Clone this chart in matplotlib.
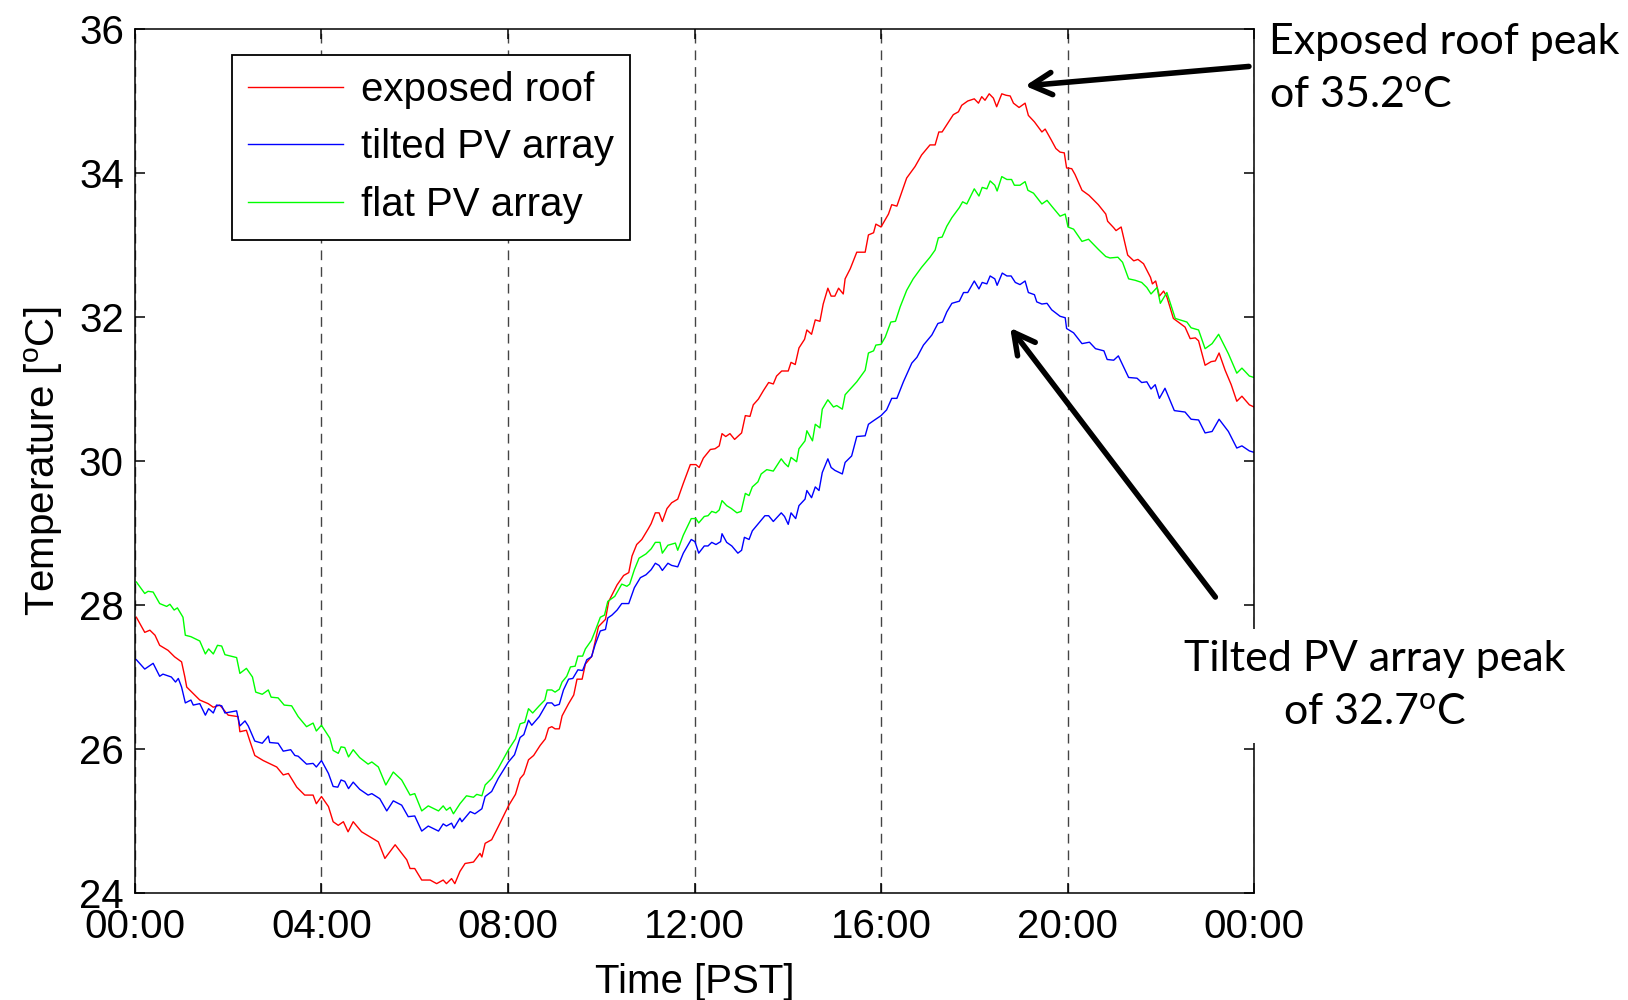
import matplotlib
matplotlib.use("Agg")
import matplotlib.pyplot as plt
import numpy as np

# time of day [h] and temperature [C]
roof_h = [0.03, 0.21, 0.32, 0.43, 0.53, 0.71, 0.85, 1.0, 1.07, 1.11, 1.25, 1.39, 1.57, 1.68, 1.82,
          2.0, 2.21, 2.25, 2.39, 2.46, 2.57, 2.75, 3.04, 3.18, 3.29, 3.47, 3.64, 3.82, 3.89, 4.0,
          4.15, 4.25, 4.36, 4.47, 4.57, 4.68, 4.86, 5.04, 5.22, 5.36, 5.58, 5.83, 5.90, 6.0, 6.15,
          6.33, 6.47, 6.61, 6.68, 6.79, 6.86, 6.97, 7.08, 7.26, 7.40, 7.44, 7.51, 7.65, 7.79,
          8.01, 8.16, 8.26, 8.34, 8.44, 8.55, 8.69, 8.8, 8.87, 8.94, 9.01, 9.1, 9.16, 9.3, 9.41,
          9.48, 9.59, 9.66, 9.8, 9.94, 10.09, 10.16, 10.34, 10.48, 10.59, 10.66, 10.76, 10.87,
          11.01, 11.07, 11.16, 11.24, 11.31, 11.41, 11.51, 11.64, 11.76, 11.91, 12.03, 12.1, 12.19,
          12.34, 12.44, 12.53, 12.59, 12.67, 12.76, 12.86, 13.01, 13.09, 13.19, 13.26, 13.37,
          13.48, 13.59, 13.69, 13.76, 13.87, 14.01, 14.07, 14.16, 14.24, 14.36, 14.41, 14.51,
          14.59, 14.69, 14.76, 14.86, 14.93, 15.01, 15.09, 15.19, 15.23, 15.34,
          15.48, 15.66, 15.73, 15.84, 15.89, 16.0, 16.16, 16.23, 16.34, 16.55, 16.73, 16.87,
          17.05, 17.16, 17.24, 17.31, 17.55, 17.66, 17.73, 17.86, 18.0, 18.09, 18.16, 18.23,
          18.32, 18.41, 18.48, 18.59, 18.68, 18.77, 18.84, 18.96, 19.09, 19.16, 19.29, 19.45,
          19.52, 19.65, 19.75, 19.84, 19.93, 19.98, 20.09, 20.16, 20.31, 20.46, 20.66, 20.82,
          20.86, 20.99, 21.04, 21.15, 21.29, 21.42, 21.51, 21.63, 21.78, 21.82, 21.89, 21.97,
          22.06, 22.13, 22.27, 22.52, 22.63, 22.74, 22.81, 22.95, 23.08, 23.17, 23.25, 23.38,
          23.51, 23.63, 23.74, 23.9, 24.0]
roof_t = [27.83, 27.62, 27.65, 27.58, 27.44, 27.37, 27.28, 27.21, 27.00, 26.86, 26.77, 26.68, 26.63,
          26.58, 26.61, 26.47, 26.45, 26.24, 26.26, 26.12, 25.91, 25.84, 25.75, 25.64, 25.66,
          25.47, 25.36, 25.36, 25.24, 25.34, 25.20, 24.99, 24.94, 24.99, 24.85, 24.99, 24.85,
          24.78, 24.71, 24.48, 24.67, 24.46, 24.34, 24.34, 24.18, 24.18, 24.13, 24.18, 24.13,
          24.20, 24.13, 24.30, 24.41, 24.43, 24.55, 24.50, 24.69, 24.74, 24.92,
          25.21, 25.37, 25.59, 25.65, 25.85, 25.91, 26.05, 26.14, 26.29, 26.31, 26.28, 26.28,
          26.46, 26.63, 26.75, 26.97, 26.97, 27.18, 27.29, 27.70, 27.80, 28.05, 28.28, 28.41,
          28.45, 28.68, 28.84, 28.91, 29.06, 29.13, 29.28, 29.28, 29.16, 29.34, 29.42, 29.47,
          29.69, 29.95, 29.95, 29.91, 30.04, 30.16, 30.17, 30.21, 30.38, 30.34, 30.38, 30.30,
          30.39, 30.63, 30.62, 30.78, 30.86, 30.98, 31.09, 31.07, 31.18, 31.25, 31.25, 31.37,
          31.34, 31.57, 31.69, 31.82, 31.76, 31.96, 31.94, 32.18, 32.40, 32.29, 32.29, 32.40,
          32.32, 32.53, 32.67,
          32.90, 32.90, 33.14, 33.17, 33.29, 33.25, 33.43, 33.56, 33.54, 33.93, 34.09, 34.25,
          34.39, 34.39, 34.57, 34.57, 34.81, 34.85, 34.94, 35.00, 35.03, 34.97, 35.06, 35.01,
          35.10, 35.04, 34.92, 35.10, 35.08, 35.07, 34.97, 34.91, 34.97, 34.80, 34.71, 34.57,
          34.61, 34.46, 34.34, 34.29, 34.28, 34.07, 34.06, 33.98, 33.76, 33.69, 33.56, 33.43,
          33.33, 33.24, 33.20, 33.25, 32.86, 32.78, 32.80, 32.74, 32.55, 32.46, 32.50, 32.29,
          32.36, 32.28, 31.98, 31.86, 31.70, 31.71, 31.67, 31.33, 31.38, 31.39, 31.50, 31.26,
          31.06, 30.83, 30.90, 30.78, 30.75]

tilted_h = [0.03, 0.21, 0.39, 0.53, 0.6, 0.78, 0.87, 0.93, 1.0, 1.08, 1.2, 1.25, 1.39, 1.51, 1.58,
            1.68, 1.75, 1.86, 1.93, 2.18, 2.25, 2.36, 2.43, 2.57, 2.73, 2.86, 2.89, 3.07, 3.18,
            3.34, 3.43, 3.5, 3.68, 3.82, 3.89, 4.0, 4.15, 4.25, 4.35, 4.42, 4.5, 4.58, 4.68, 4.82,
            5.0, 5.08, 5.25, 5.4, 5.54, 5.72, 5.86, 6.0, 6.15, 6.29, 6.51, 6.61, 6.68, 6.79, 6.84,
            6.97, 7.01, 7.19, 7.29, 7.44, 7.51, 7.65, 7.79,
            8.01, 8.14, 8.26, 8.34, 8.44, 8.51, 8.67, 8.84, 8.94, 9.0, 9.1, 9.19, 9.3, 9.39, 9.5,
            9.6, 9.69, 9.79, 9.87, 9.98, 10.09, 10.14, 10.23, 10.34, 10.44, 10.59, 10.71, 10.84,
            10.96, 11.07, 11.16, 11.24, 11.31, 11.43, 11.51, 11.64, 11.76, 11.93, 12.01, 12.09,
            12.21, 12.29, 12.37, 12.46, 12.56, 12.59, 12.69, 12.8, 12.93, 13.01, 13.07, 13.17,
            13.24, 13.37, 13.51, 13.59, 13.69, 13.86, 13.93, 14.01, 14.07, 14.17, 14.24, 14.37,
            14.41, 14.51, 14.59, 14.67, 14.74, 14.86, 14.93, 15.01, 15.17, 15.23,
            15.37, 15.48, 15.66, 15.73, 15.84, 16.0, 16.12, 16.23, 16.34, 16.48, 16.66, 16.77,
            16.91, 17.09, 17.22, 17.32, 17.41, 17.52, 17.68, 17.77, 17.86, 18.0, 18.1, 18.17,
            18.27, 18.34, 18.44, 18.49, 18.6, 18.7, 18.79, 18.88, 18.98, 19.09, 19.16, 19.29,
            19.34, 19.45, 19.56, 19.66, 19.84, 19.95, 19.98, 20.13, 20.31, 20.47, 20.6, 20.78,
            20.85, 20.99, 21.09, 21.31, 21.49, 21.59, 21.7, 21.79, 21.88, 21.97, 22.09, 22.29,
            22.52, 22.65, 22.81, 22.95, 23.1, 23.25, 23.45, 23.63, 23.74, 23.9, 24.0]
tilted_t = [27.24, 27.11, 27.19, 27.01, 27.04, 27.00, 26.93, 26.98, 26.86, 26.64, 26.68, 26.61, 26.63,
            26.47, 26.56, 26.50, 26.61, 26.60, 26.50, 26.53, 26.32, 26.39, 26.32, 26.11, 26.08,
            26.18, 26.09, 26.08, 25.97, 25.99, 25.91, 25.90, 25.79, 25.80, 25.75, 25.84, 25.66,
            25.48, 25.47, 25.57, 25.55, 25.45, 25.54, 25.44, 25.36, 25.38, 25.31, 25.14, 25.28,
            25.22, 25.06, 25.07, 24.86, 24.93, 24.86, 24.96, 24.93, 24.97, 24.90, 25.04, 24.99,
            25.13, 25.10, 25.17, 25.34, 25.41, 25.59,
            25.82, 25.92, 26.16, 26.20, 26.40, 26.33, 26.45, 26.64, 26.64, 26.60, 26.62, 26.82,
            26.97, 26.98, 27.10, 27.09, 27.24, 27.28, 27.45, 27.64, 27.66, 27.82, 27.86, 27.93,
            28.02, 28.02, 28.24, 28.38, 28.42, 28.49, 28.58, 28.55, 28.48, 28.58, 28.55, 28.53,
            28.72, 28.91, 28.88, 28.72, 28.82, 28.82, 28.87, 28.84, 28.88, 28.99, 28.87, 28.82,
            28.72, 28.76, 28.94, 28.91, 29.03, 29.13, 29.24, 29.24, 29.16, 29.28, 29.23, 29.12,
            29.28, 29.20, 29.38, 29.47, 29.59, 29.49, 29.64, 29.59, 29.84, 30.03, 29.91, 29.87,
            29.82, 29.98,
            30.07, 30.34, 30.35, 30.51, 30.56, 30.63, 30.71, 30.87, 30.87, 31.10, 31.36, 31.44,
            31.61, 31.75, 31.91, 31.93, 32.07, 32.19, 32.22, 32.34, 32.34, 32.50, 32.39, 32.48,
            32.46, 32.57, 32.53, 32.44, 32.61, 32.57, 32.57, 32.48, 32.45, 32.50, 32.34, 32.31,
            32.21, 32.18, 32.19, 32.10, 32.01, 31.99, 31.84, 31.78, 31.63, 31.65, 31.56, 31.53,
            31.41, 31.40, 31.46, 31.16, 31.15, 31.09, 31.10, 31.00, 31.06, 30.87, 31.01, 30.70,
            30.68, 30.58, 30.57, 30.39, 30.41, 30.58, 30.41, 30.18, 30.21, 30.14, 30.12]

flat_h = [0.03, 0.21, 0.28, 0.39, 0.53, 0.68, 0.75, 0.84, 0.91, 1.03, 1.08, 1.2, 1.39, 1.51, 1.58,
          1.68, 1.77, 1.86, 1.93, 2.18, 2.25, 2.39, 2.52, 2.59, 2.73, 2.86, 2.92, 3.07, 3.2, 3.36,
          3.5, 3.68, 3.82, 3.89, 4.0, 4.18, 4.25, 4.36, 4.42, 4.5, 4.58, 4.68, 4.82, 5.0, 5.08,
          5.22, 5.38, 5.54, 5.72, 5.9, 6.0, 6.15, 6.29, 6.51, 6.61, 6.68, 6.76, 6.83, 6.97, 7.11,
          7.26, 7.33, 7.44, 7.51, 7.65, 7.79,
          8.01, 8.16, 8.26, 8.36, 8.44, 8.53, 8.67, 8.79, 8.84, 8.94, 9.01, 9.1, 9.16, 9.26, 9.34,
          9.44, 9.5, 9.6, 9.66, 9.79, 9.87, 9.98, 10.07, 10.14, 10.29, 10.44, 10.55, 10.61, 10.71,
          10.81, 10.96, 11.07, 11.16, 11.26, 11.31, 11.43, 11.59, 11.64, 11.76, 11.93, 12.03,
          12.09, 12.21, 12.29, 12.37, 12.46, 12.53, 12.59, 12.69, 12.79, 12.91, 13.0, 13.09,
          13.17, 13.24, 13.36, 13.43, 13.55, 13.69, 13.86, 13.93, 14.01, 14.07, 14.19, 14.24,
          14.37, 14.41, 14.53, 14.59, 14.69, 14.74, 14.86, 14.98, 15.05, 15.17, 15.23, 15.37,
          15.48, 15.66, 15.73, 15.84, 15.89, 16.0, 16.09, 16.21, 16.31, 16.41, 16.55, 16.69,
          16.87, 17.05, 17.16, 17.23, 17.31, 17.41, 17.52, 17.68, 17.75, 17.84, 18.0, 18.1,
          18.17, 18.27, 18.34, 18.44, 18.49, 18.59, 18.7, 18.8, 18.86, 18.98, 19.09, 19.15,
          19.27, 19.45, 19.56, 19.66, 19.84, 19.95, 20.01, 20.13, 20.31, 20.45, 20.66, 20.82,
          20.91, 21.08, 21.18, 21.31, 21.45, 21.59, 21.7, 21.79, 21.92, 21.99, 22.13, 22.31,
          22.56, 22.65, 22.81, 22.95, 23.1, 23.24, 23.45, 23.63, 23.74, 23.9, 24.0]
flat_t = [28.32, 28.16, 28.19, 28.18, 28.02, 27.98, 28.01, 27.93, 27.96, 27.83, 27.58, 27.56, 27.50,
          27.32, 27.39, 27.32, 27.44, 27.43, 27.31, 27.27, 27.05, 27.12, 27.00, 26.79, 26.76,
          26.82, 26.72, 26.71, 26.61, 26.60, 26.45, 26.31, 26.36, 26.25, 26.33, 26.15, 25.98,
          25.94, 26.03, 26.02, 25.89, 25.99, 25.88, 25.79, 25.82, 25.75, 25.50, 25.68, 25.57,
          25.36, 25.38, 25.14, 25.21, 25.14, 25.21, 25.15, 25.19, 25.10, 25.24, 25.35, 25.33,
          25.37, 25.35, 25.50, 25.59, 25.73,
          25.99, 26.14, 26.35, 26.37, 26.56, 26.50, 26.60, 26.68, 26.82, 26.82, 26.79, 26.83,
          26.93, 27.01, 27.14, 27.15, 27.29, 27.29, 27.39, 27.51, 27.64, 27.83, 27.86, 28.05,
          28.12, 28.29, 28.26, 28.29, 28.49, 28.65, 28.71, 28.78, 28.87, 28.87, 28.72, 28.83,
          28.86, 28.76, 28.97, 29.20, 29.20, 29.14, 29.23, 29.24, 29.30, 29.28, 29.32, 29.45,
          29.38, 29.34, 29.28, 29.30, 29.55, 29.52, 29.64, 29.71, 29.82, 29.88, 29.86, 30.03,
          29.97, 29.92, 30.05, 29.99, 30.17, 30.28, 30.42, 30.28, 30.51, 30.46, 30.72, 30.85,
          30.75, 30.77, 30.72, 30.92, 31.02,
          31.10, 31.26, 31.50, 31.53, 31.61, 31.62, 31.72, 31.93, 31.94, 32.14, 32.37, 32.53,
          32.69, 32.83, 32.93, 33.10, 33.11, 33.26, 33.38, 33.52, 33.60, 33.57, 33.78, 33.68,
          33.80, 33.78, 33.89, 33.83, 33.75, 33.95, 33.91, 33.91, 33.83, 33.83, 33.88, 33.76,
          33.72, 33.57, 33.62, 33.54, 33.40, 33.43, 33.25, 33.22, 33.05, 33.08, 32.94, 32.84,
          32.82, 32.83, 32.76, 32.53, 32.51, 32.48, 32.41, 32.32, 32.41, 32.19, 32.34, 31.98,
          31.93, 31.85, 31.82, 31.56, 31.63, 31.76, 31.49, 31.22, 31.29, 31.18, 31.16]

hour_ticks = [0, 4, 8, 12, 16, 20, 24]
hour_labels = ['00:00', '04:00', '08:00', '12:00', '16:00', '20:00', '00:00']
temp_ticks = [24, 26, 28, 30, 32, 34, 36]

plt.rcParams['font.family'] = ['Liberation Sans', 'DejaVu Sans']
plt.rcParams['mathtext.fontset'] = 'custom'
plt.rcParams['mathtext.rm'] = 'Liberation Sans'

fig = plt.figure(figsize=(16.28, 10), dpi=100)
ax = fig.add_axes([0.0829, 0.107, 0.6874, 0.864])

ax.plot(roof_h, roof_t, color='#ff0000', lw=1.0, label='exposed roof')
ax.plot(tilted_h, tilted_t, color='#0000ff', lw=1.0, label='tilted PV array')
ax.plot(flat_h, flat_t, color='#00ff00', lw=1.0, label='flat PV array')

ax.set_xlim(0, 24)
ax.set_ylim(24, 36)
ax.set_xticks(hour_ticks)
ax.set_xticklabels(hour_labels)
ax.set_yticks(temp_ticks)
ax.tick_params(direction='in', top=True, right=True, length=7, width=1.1,
               labelsize=29, pad=11)
ax.tick_params(axis='y', pad=8)
for s in ax.spines.values():
    s.set_linewidth(1.1)
ax.grid(axis='x', color='#444444', lw=1.0, linestyle=(0, (7, 5)))

ax.set_xlabel('Time [PST]', fontsize=29, labelpad=12)
ax.set_ylabel('Temperature [$\\mathregular{^o}$C]', fontsize=29, labelpad=10)

leg = ax.legend(loc='upper left', bbox_to_anchor=(0.087, 0.970), borderaxespad=0,
                fontsize=29, fancybox=False, framealpha=1, edgecolor='black',
                handlelength=2.35, handletextpad=0.45, labelspacing=0.48, borderpad=0.4)
leg.get_frame().set_linewidth(1.3)

arrow = dict(arrowstyle='->,head_length=0.75,head_width=0.4', lw=4, color='black',
             mutation_scale=20, shrinkA=0, shrinkB=0)
ax.annotate('', xy=(19.09, 35.21), xytext=(23.89, 35.48), arrowprops=arrow,
            annotation_clip=False)
ax.annotate('', xy=(18.77, 31.85), xytext=(23.17, 28.11), arrowprops=arrow,
            annotation_clip=False)

fig.text(0.7795, 0.931, 'Exposed roof peak\nof 35.2$\\mathregular{^o}$C', family='Lato',
         fontsize=31, ha='left', va='center', linespacing=1.5)
fig.text(0.8446, 0.314, 'Tilted PV array peak\nof 32.7$\\mathregular{^o}$C', family='Lato',
         fontsize=31, ha='center', va='center', multialignment='center', linespacing=1.5,
         bbox=dict(boxstyle='square,pad=0.25', fc='white', ec='none'))

fig.savefig('out.png', dpi=100)
